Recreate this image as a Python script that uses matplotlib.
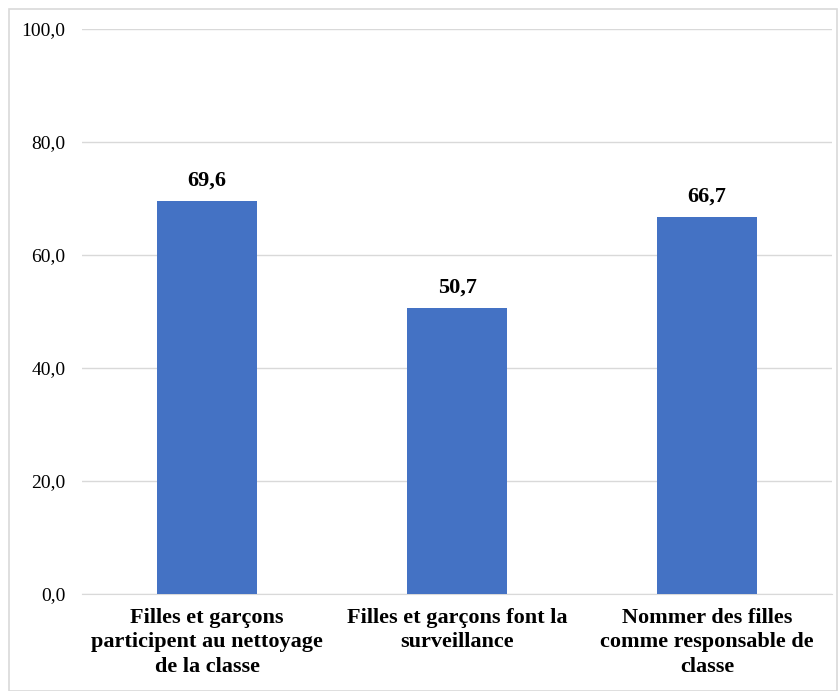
import matplotlib
matplotlib.use("Agg")
import matplotlib.pyplot as plt
from matplotlib.patches import Rectangle

categories = ["Filles et garçons\nparticipent au nettoyage\nde la classe",
              "Filles et garçons font la\nsurveillance",
              "Nommer des filles\ncomme responsable de\nclasse"]
values = [69.6, 50.7, 66.7]
yticks = [0, 20, 40, 60, 80, 100]

plt.rcParams['font.family'] = ['Liberation Serif', 'DejaVu Serif']

W, H = 838, 691
fig = plt.figure(figsize=(W/100, H/100), dpi=100)
fig.patches.append(Rectangle((9/W, 0), (W-9-1)/W, (H-9)/H, transform=fig.transFigure,
                             fill=False, edgecolor='#d9d9d9', linewidth=1.2))
ax = fig.add_axes([82/W, 1-594/H, 750/W, 565/H])

x = list(range(len(categories)))
ax.bar(x, values, width=0.4, color='#4472c4', zorder=3)
ax.set_xlim(-0.5, 2.5)
ax.set_ylim(0, 100)
ax.set_yticks(yticks)
ax.set_yticklabels([f"{v:.1f}".replace('.', ',') for v in yticks], fontsize=14)
ax.yaxis.grid(True, color='#d9d9d9', linewidth=1, zorder=0)
ax.set_xticks(x)
ax.set_xticklabels(categories, fontsize=16, fontweight='bold', linespacing=1.3)
for s in ['top', 'right', 'left']:
    ax.spines[s].set_visible(False)
ax.spines['bottom'].set_color('#d9d9d9')
ax.tick_params(axis='both', length=0)
ax.tick_params(axis='y', pad=12)
ax.tick_params(axis='x', pad=10)
for xi, v in zip(x, values):
    ax.text(xi, v + 1.8, f"{v:.1f}".replace('.', ','), ha='center', va='bottom',
            fontsize=16, fontweight='bold')

fig.savefig("out.png", dpi=100)
